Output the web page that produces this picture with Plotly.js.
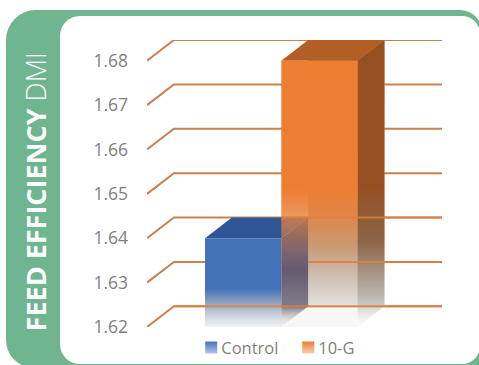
<!DOCTYPE html>
<html><head><meta charset="utf-8">
<script src="https://cdn.plot.ly/plotly-3.0.1.min.js"></script>
<style>
html,body{margin:0;padding:0;background:#fff;overflow:hidden}
#panel{position:absolute;left:6px;top:10px;width:476px;height:358px;background:#6fb58f;border-radius:30px 22px 0 28px}
#inner{position:absolute;left:60px;top:16px;width:420px;height:348px;background:#fff;border-radius:20px 18px 18px 20px}
#chart{position:absolute;left:0;top:0;width:479px;height:365px}
</style></head><body>
<div id="panel"></div><div id="inner"></div><div id="chart"></div>
<script>
const categories = ['Control', '10-G'];
const values = [1.64, 1.68];
const tickVals = [1.62, 1.63, 1.64, 1.65, 1.66, 1.67, 1.68];
const axisBase = 1.62;
const depthX = 0.353, depthY = 0.00467;
const xMin = -1.261, xMax = 2.608;
const barHalf = 0.5;

function vgrad(stops, start, stop){ return {type:'vertical', start:start, stop:stop, colorscale:stops}; }
function poly(xs, ys, fill, grad){
  const t = {type:'scatter', mode:'lines', x:xs, y:ys, fill:'toself', line:{width:0}, showlegend:false, hoverinfo:'skip', fillcolor:fill};
  if(grad) t.fillgradient = grad;
  return t;
}
function gridLine(v, color){
  return {type:'scatter', mode:'lines', x:[xMin, xMin+depthX, xMax], y:[v, v+depthY, v+depthY],
    line:{color:color, width:2}, showlegend:false, hoverinfo:'skip', cliponaxis:false};
}
function gridFront(v, from, color){
  return {type:'scatter', mode:'lines', x:[from, xMax], y:[v+depthY, v+depthY],
    line:{color:color, width:2}, showlegend:false, hoverinfo:'skip', cliponaxis:false};
}
const traces = [];
const b0 = 0 - barHalf, b1 = 0 + barHalf, bv = values[0];
const o0 = 1 - barHalf, o1 = 1 + barHalf, ov = values[1];
// gridlines behind bars
tickVals.forEach(v => traces.push(gridLine(v, '#c98150')));
// back wall of the orange bar, seen through its faded face
traces.push(poly([o0+depthX,o1+depthX,o1+depthX,o0+depthX],[axisBase+depthY,axisBase+depthY,ov+depthY,ov+depthY],'#d8d0c8',
  vgrad([[0,'rgba(222,220,218,0.95)'],[0.1,'rgba(204,198,192,1)'],[0.22,'rgba(190,165,140,1)'],[1,'rgba(185,140,105,1)']],axisBase+depthY,ov+depthY)));
// blue bar
traces.push(poly([b1,b1+depthX,b1+depthX,b1],[axisBase,axisBase+depthY,bv+depthY,bv],'#2f5597',
  vgrad([[0,'rgba(170,170,175,0.1)'],[0.18,'rgba(85,80,100,0.95)'],[0.5,'rgba(65,65,105,1)'],[1,'rgba(47,70,130,1)']],axisBase,bv+depthY)));
traces.push(poly([b0,b1,b1+depthX,b0+depthX],[bv,bv,bv+depthY,bv+depthY],'#2f5597'));
traces.push(poly([b0,b1,b1,b0],[axisBase,axisBase,bv,bv],'#4472b8',
  vgrad([[0,'rgba(236,238,242,0.8)'],[0.15,'rgba(196,204,216,1)'],[0.28,'rgba(140,160,190,1)'],[0.43,'rgba(68,114,184,1)'],[1,'rgba(68,114,184,1)']],axisBase,bv)));
// orange bar
traces.push(poly([o1,o1+depthX,o1+depthX,o1],[axisBase,axisBase+depthY,ov+depthY,ov],'#964f20',
  vgrad([[0,'rgba(210,210,210,0.05)'],[0.1,'rgba(185,180,175,0.85)'],[0.3,'rgba(140,100,70,1)'],[0.5,'rgba(150,79,32,1)'],[1,'rgba(150,79,32,1)']],axisBase,ov+depthY)));
traces.push(poly([o0,o1,o1+depthX,o0+depthX],[ov,ov,ov+depthY,ov+depthY],'#b35e24'));
traces.push(poly([o0,o1,o1,o0],[axisBase,axisBase,ov,ov],'#ed7d31',
  vgrad([[0,'rgba(242,242,242,0.6)'],[0.08,'rgba(235,232,228,0.25)'],[0.22,'rgba(215,165,125,0.25)'],[0.33,'rgba(220,135,75,0.55)'],[0.43,'rgba(232,128,58,0.85)'],[0.52,'rgba(237,125,49,1)'],[1,'rgba(237,125,49,1)']],axisBase,ov)));
// gridlines seen through the faded part of the bars
traces.push(gridFront(tickVals[0], xMin+depthX, 'rgba(226,125,60,0.85)'));
traces.push(gridFront(tickVals[1], o0+depthX, 'rgba(226,125,60,0.85)'));
traces.push(gridFront(tickVals[2], o0, 'rgba(226,125,60,0.85)'));
// legend entries
traces.push({type:'scatter', mode:'markers', name:categories[0], x:[0], y:[null], hoverinfo:'skip',
  marker:{symbol:'square', size:12, color:'#4472c4', gradient:{type:'vertical', color:'#b4c6e8'}}});
traces.push({type:'scatter', mode:'markers', name:categories[1], x:[1], y:[null], hoverinfo:'skip',
  marker:{symbol:'square', size:12, color:'#ed7d31', gradient:{type:'vertical', color:'#f8cfb0'}}});

const layout = {
  width:479, height:365, paper_bgcolor:'rgba(0,0,0,0)', plot_bgcolor:'rgba(0,0,0,0)',
  margin:{l:146.5, r:36.5, t:40, b:38.3, pad:0},
  font:{family:'"Open Sans", sans-serif', color:'#7f7f7f', size:16},
  xaxis:{range:[xMin,xMax], showgrid:false, zeroline:false, showline:false, showticklabels:false, ticks:'', fixedrange:true},
  yaxis:{range:[axisBase, 1.68+depthY], tickvals:tickVals, ticktext:tickVals.map(v=>v.toFixed(2)), showgrid:false, zeroline:false, showline:false,
    ticks:'', ticklabelstandoff:18, tickfont:{size:17.5,color:'#808080'}, fixedrange:true},
  showlegend:true,
  legend:{orientation:'h', xref:'paper', yref:'container', x:0.15, xanchor:'left', y:0.095, yanchor:'top', entrywidth:52,
    font:{size:16.5,color:'#7f7f7f'}, bgcolor:'rgba(0,0,0,0)', itemclick:false, itemdoubleclick:false},
  annotations:[{xref:'paper', yref:'paper', x:-0.377, y:0.4716, xanchor:'center', yanchor:'middle', textangle:-90, showarrow:false,
    text:'<b>FEED EFFICIENCY</b> <span style="font-weight:300">DMI</span>', font:{family:'"Open Sans", sans-serif', size:27, color:'#ffffff'}}]
};
Plotly.newPlot('chart', traces, layout, {displayModeBar:false, staticPlot:true}).then(gd => {
  gd.querySelectorAll('.legendtext').forEach(t => {
    t.setAttribute('x', parseFloat(t.getAttribute('x')) - 10);
  });
});
</script></body></html>
